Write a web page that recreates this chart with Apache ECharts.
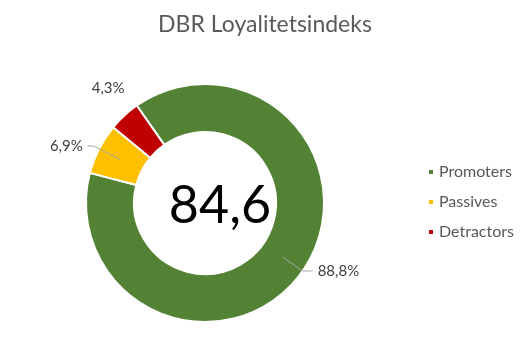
<!DOCTYPE html>
<html>
<head>
<meta charset="utf-8">
<script src="https://cdn.jsdelivr.net/npm/echarts@6/dist/echarts.min.js"></script>
<style>
html,body{margin:0;padding:0;background:#fff;}
#chart{width:523px;height:354px;}
</style>
</head>
<body>
<div id="chart"></div>
<script>
const chartTitle = 'DBR Loyalitetsindeks';
const categories = ['Promoters', 'Passives', 'Detractors'];
const shares = [88.8, 6.9, 4.3];
const colors = ['#548235', '#FFC000', '#C00000'];
const indexValue = '84,6';
const lineLengths = [24, 30, 50];
const lineLengths2 = [10, 6, 0];
const showLines = [true, true, false];

const fmt = v => v.toFixed(1).replace('.', ',') + '%';
const FONT = 'Lato';
const center = [205, 203];

const ringData = categories.map((c, i) => ({
  name: c, value: shares[i], itemStyle: { color: colors[i] }
}));
const labelData = categories.map((c, i) => ({
  name: c, value: shares[i],
  labelLine: { show: showLines[i], length: lineLengths[i], length2: lineLengths2[i] }
}));

const chart = echarts.init(document.getElementById('chart'), null, { renderer: 'canvas' });
chart.setOption({
  animation: false,
  backgroundColor: '#fff',
  title: [
    { text: chartTitle, left: 260, top: 8, textAlign: 'center',
      textStyle: { fontFamily: FONT, fontSize: 23, fontWeight: 'normal', color: '#595959' } },
    { text: indexValue, left: 215, top: 175, textAlign: 'center',
      textStyle: { fontFamily: FONT, fontSize: 52, fontWeight: 'normal', color: '#000' } }
  ],
  legend: {
    orient: 'vertical', left: 422, top: 159, itemGap: 14,
    icon: 'rect', itemWidth: 6, itemHeight: 6,
    data: categories,
    textStyle: { fontFamily: FONT, fontSize: 16, color: '#595959' }
  },
  series: [
    {
      type: 'pie', center: center, radius: [71, 119], startAngle: 125, clockwise: true,
      silent: true, label: { show: false }, labelLine: { show: false },
      itemStyle: { borderColor: '#fff', borderWidth: 2 },
      data: ringData
    },
    {
      type: 'pie', center: center, radius: [0, 95], startAngle: 125, clockwise: true,
      silent: true, z: 5, avoidLabelOverlap: false,
      itemStyle: { color: 'rgba(0,0,0,0)' },
      legendHoverLink: false,
      label: {
        show: true, position: 'outside', formatter: p => fmt(p.value),
        fontFamily: FONT, fontSize: 15, color: '#404040', distanceToLabelLine: 5
      },
      labelLine: { show: true, lineStyle: { color: '#A6A6A6', width: 1 } },
      labelLayout: function (p) {
        if (p.dataIndex === 2) return { dx: 23, dy: -8 };
      },
      data: labelData
    }
  ]
});
</script>
</body>
</html>
